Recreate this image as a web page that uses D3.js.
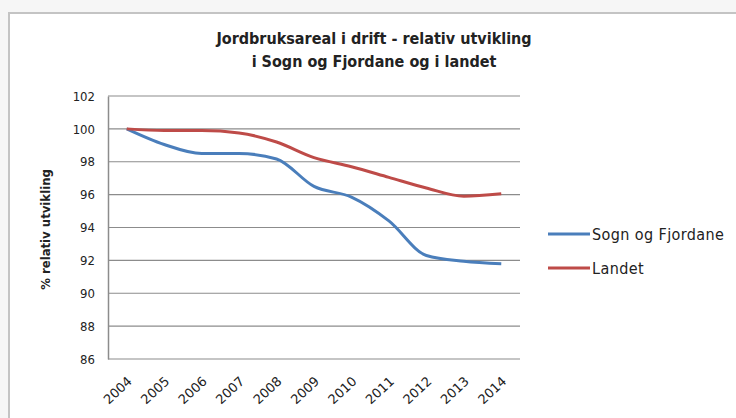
<!DOCTYPE html>
<html lang="no">
<head>
<meta charset="UTF-8">
<script src="https://d3js.org/d3.v7.min.js"></script>
<style>
  body { margin: 0; background: #f6f6f6; }
  text { font-family: "DejaVu Sans", sans-serif; fill: #222; }
</style>
</head>
<body>
<div id="chart"></div>
<script>
// data
const years = ['2004','2005','2006','2007','2008','2009','2010','2011','2012','2013','2014']
const sognFjordane = [100, 99.05, 98.5, 98.5, 98.17, 96.5, 95.85, 94.4, 92.3, 91.95, 91.8]
const landet = [100, 99.9, 99.9, 99.75, 99.2, 98.25, 97.7, 97.05, 96.4, 95.9, 96.05]
const yTicks = [86, 88, 90, 92, 94, 96, 98, 100, 102]
const seriesNames = ['Sogn og Fjordane', 'Landet']
const seriesColors = ['#4a7ebb', '#be4b48']

const W = 736, H = 418
const svg = d3.select('#chart').append('svg')
  .attr('width', W).attr('height', H)

// chart frame
svg.append('rect').attr('x', 9).attr('y', 13).attr('width', W).attr('height', H)
  .attr('fill', '#fff').attr('stroke', '#c4c4c4').attr('stroke-width', 2)

const plot = {left: 108, right: 520, top: 96, bottom: 359}

const x = d3.scaleBand().domain(years).range([plot.left, plot.right])
const y = d3.scaleLinear().domain([86, 102]).range([plot.bottom, plot.top])

// gridlines
svg.append('g').selectAll('line').data(yTicks).join('line')
  .attr('x1', plot.left).attr('x2', plot.right)
  .attr('y1', d => y(d)).attr('y2', d => y(d))
  .attr('stroke', '#8c8c8c').attr('stroke-width', 1.2)

// y axis
const yAxis = svg.append('g').attr('transform', `translate(${plot.left},0)`)
  .call(d3.axisLeft(y).tickValues(yTicks).tickSize(0).tickPadding(13))
yAxis.select('.domain').attr('stroke', '#8c8c8c').attr('stroke-width', 1.5)
yAxis.selectAll('text').style('font-size', '13px').style('font-family', '"DejaVu Sans Condensed", sans-serif').attr('fill', '#222')

// x axis
const xAxis = svg.append('g').attr('transform', `translate(0,${plot.bottom})`)
  .call(d3.axisBottom(x).tickSize(0).tickPadding(0))
xAxis.select('.domain').remove()
xAxis.selectAll('text')
  .style('font-size', '13px').style('font-family', '"DejaVu Sans", sans-serif').attr('fill', '#222')
  .attr('text-anchor', 'end')
  .attr('dy', '0.35em')
  .attr('transform', 'translate(3,20) rotate(-43)')

// y title
svg.append('text')
  .attr('transform', `translate(50,${(plot.top + plot.bottom) / 2 + 2}) rotate(-90)`)
  .attr('text-anchor', 'middle')
  .style('font-size', '13px').style('font-weight', 'bold')
  .style('font-family', '"DejaVu Sans Condensed", sans-serif')
  .text('% relativ utvikling')

// title
const title = svg.append('text').attr('text-anchor', 'middle')
  .style('font-size', '16px').style('font-weight', 'bold')
  .style('font-family', '"DejaVu Sans Condensed", sans-serif')
title.append('tspan').attr('x', 374).attr('y', 44).text('Jordbruksareal i drift - relativ utvikling')
title.append('tspan').attr('x', 374).attr('y', 67).text('i Sogn og Fjordane og i landet')

// lines
const line = d3.line()
  .x((d, i) => x(years[i]) + x.bandwidth() / 2)
  .y(d => y(d))
  .curve(d3.curveMonotoneX)

;[sognFjordane, landet].forEach((s, k) => {
  svg.append('path').datum(s)
    .attr('fill', 'none')
    .attr('stroke', seriesColors[k])
    .attr('stroke-width', 3)
    .attr('stroke-linejoin', 'round')
    .attr('d', line)
})

// legend
const legend = svg.append('g').selectAll('g').data(seriesNames).join('g')
  .attr('transform', (d, i) => `translate(548,${234 + i * 34})`)
legend.append('line').attr('x1', 0).attr('x2', 42)
  .attr('stroke', (d, i) => seriesColors[i]).attr('stroke-width', 3)
legend.append('text').attr('x', 44).attr('dy', '0.35em')
  .style('font-size', '16px').style('letter-spacing', '0.4px')
  .style('font-family', '"DejaVu Sans Condensed", sans-serif')
  .text(d => d)
</script>
</body>
</html>
